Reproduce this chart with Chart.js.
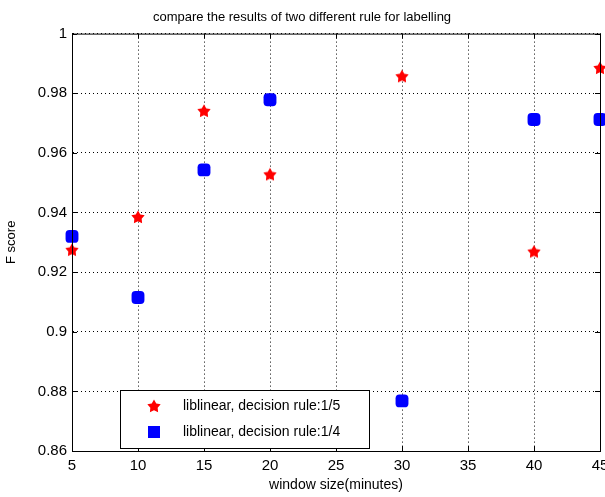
<!DOCTYPE html>
<html>
<head>
<meta charset="utf-8">
<script src="https://cdn.jsdelivr.net/npm/chart.js@4.4.1/dist/chart.umd.min.js"></script>
<style>
  html, body { margin:0; padding:0; background:#fff; }
  #wrap { width:605px; height:497px; }
</style>
</head>
<body>
<div id="wrap"><canvas id="chart" width="605" height="497"></canvas></div>
<script>
'use strict';

const windowSizes = [5, 10, 15, 20, 30, 40, 45];
const ruleFifth   = [0.9275, 0.9385, 0.9741, 0.9528, 0.9857, 0.9269, 0.9885];
const ruleQuarter = [0.9320, 0.9115, 0.9543, 0.9778, 0.8768, 0.9712, 0.9712];
const seriesLabels = ['liblinear, decision rule:1/5', 'liblinear, decision rule:1/4'];
const xTicks = [5, 10, 15, 20, 25, 30, 35, 40, 45];
const yTicks = [0.86, 0.88, 0.9, 0.92, 0.94, 0.96, 0.98, 1];

const FONT = '"Liberation Sans Narrow", "Liberation Sans", Arial, sans-serif';

function starImage(size, color) {
  const c = document.createElement('canvas');
  c.width = size; c.height = size;
  const g = c.getContext('2d');
  const cx = size / 2, cy = size / 2 + 0.5, ro = size / 2, ri = ro * 0.55;
  g.beginPath();
  for (let i = 0; i < 10; i++) {
    const r = i % 2 ? ri : ro;
    const a = -Math.PI / 2 + i * Math.PI / 5;
    g.lineTo(cx + r * Math.cos(a), cy + r * Math.sin(a));
  }
  g.closePath();
  g.fillStyle = color;
  g.fill();
  return c;
}
const redStar = starImage(14, '#ff0000');

const pts = ys => windowSizes.map((x, i) => ({ x, y: ys[i] }));

// box round the plot, inward tick marks on all four sides, x labels, legend
// (x labels drawn here so the "45" can run off the right edge like matlab does)
const framePlugin = {
  id: 'frame',
  afterDatasetsDraw(chart) {
    const { ctx, chartArea: a, scales } = chart;
    ctx.save();
    ctx.strokeStyle = '#000';
    ctx.lineWidth = 1;
    ctx.setLineDash([]);
    ctx.strokeRect(a.left + 0.5, a.top + 0.5, a.right - a.left, a.bottom - a.top);
    ctx.beginPath();
    xTicks.forEach(v => {
      const px = Math.round(scales.x.getPixelForValue(v)) + 0.5;
      ctx.moveTo(px, a.bottom); ctx.lineTo(px, a.bottom - 5);
      ctx.moveTo(px, a.top); ctx.lineTo(px, a.top + 5);
    });
    yTicks.forEach(v => {
      const py = Math.round(scales.y.getPixelForValue(v)) + 0.5;
      ctx.moveTo(a.left, py); ctx.lineTo(a.left + 5, py);
      ctx.moveTo(a.right, py); ctx.lineTo(a.right - 5, py);
    });
    ctx.stroke();
    ctx.fillStyle = '#000';
    ctx.font = '15px ' + FONT;
    ctx.textAlign = 'center';
    ctx.textBaseline = 'top';
    xTicks.forEach(v => ctx.fillText(String(v), scales.x.getPixelForValue(v), a.bottom + 7));
    ctx.restore();
  },
  afterDraw(chart) {
    const { ctx } = chart;
    const bx = 120, by = 390, bw = 249, bh = 58;
    ctx.save();
    ctx.fillStyle = '#fff';
    ctx.fillRect(bx, by, bw, bh);
    ctx.strokeStyle = '#000';
    ctx.lineWidth = 1;
    ctx.strokeRect(bx + 0.5, by + 0.5, bw, bh);
    ctx.drawImage(redStar, 147, 399);
    ctx.fillStyle = '#0000ff';
    ctx.fillRect(148, 426, 12, 12);
    ctx.fillStyle = '#000';
    ctx.font = '14px ' + FONT;
    ctx.textBaseline = 'middle';
    ctx.fillText(seriesLabels[0], 183, 406);
    ctx.fillText(seriesLabels[1], 183, 432);
    ctx.restore();
  },
};

const gridStyle = { color: '#000', lineWidth: 1, drawTicks: false };
const dotted = { display: true, color: '#000', dash: [1, 3] };

new Chart(document.getElementById('chart'), {
  type: 'scatter',
  data: {
    datasets: [
      {
        label: seriesLabels[0],
        data: pts(ruleFifth),
        pointStyle: redStar,
        pointRadius: 7,
        backgroundColor: '#ff0000',
        borderColor: '#ff0000',
      },
      {
        label: seriesLabels[1],
        data: pts(ruleQuarter),
        pointStyle: 'rectRounded',
        pointRadius: 7.5,
        backgroundColor: '#0000ff',
        borderColor: '#0000ff',
        borderWidth: 0,
      },
    ],
  },
  options: {
    responsive: false,
    animation: false,
    clip: false,
    layout: { autoPadding: false, padding: { left: 4, right: 5, top: 2, bottom: 3 } },
    plugins: {
      legend: { display: false },
      tooltip: { enabled: false },
      title: {
        display: true,
        text: 'compare the results of two different rule for labelling',
        color: '#000',
        font: { family: FONT, size: 13, weight: 'normal' },
        padding: { top: 8, bottom: 8 },
      },
    },
    scales: {
      x: {
        type: 'linear',
        min: 5, max: 45,
        afterBuildTicks: s => { s.ticks = xTicks.map(v => ({ value: v })); },
        afterFit: s => { s.height = 43; },
        grid: gridStyle,
        border: dotted,
        ticks: { display: false },
        title: { display: true, text: 'window size(minutes)', color: '#000', font: { family: FONT, size: 14 }, padding: { top: 0, bottom: 0 } },
      },
      y: {
        min: 0.86, max: 1,
        afterBuildTicks: s => { s.ticks = yTicks.map(v => ({ value: v })); },
        afterFit: s => { s.width = 68; },
        grid: gridStyle,
        border: dotted,
        ticks: {
          color: '#000', font: { family: FONT, size: 15 }, padding: 5,
          callback: v => String(+v.toFixed(2)),
        },
        title: { display: true, text: 'F score', color: '#000', font: { family: FONT, size: 13 }, padding: { top: 0, bottom: 0 } },
      },
    },
  },
  plugins: [framePlugin],
});
</script>
</body>
</html>
